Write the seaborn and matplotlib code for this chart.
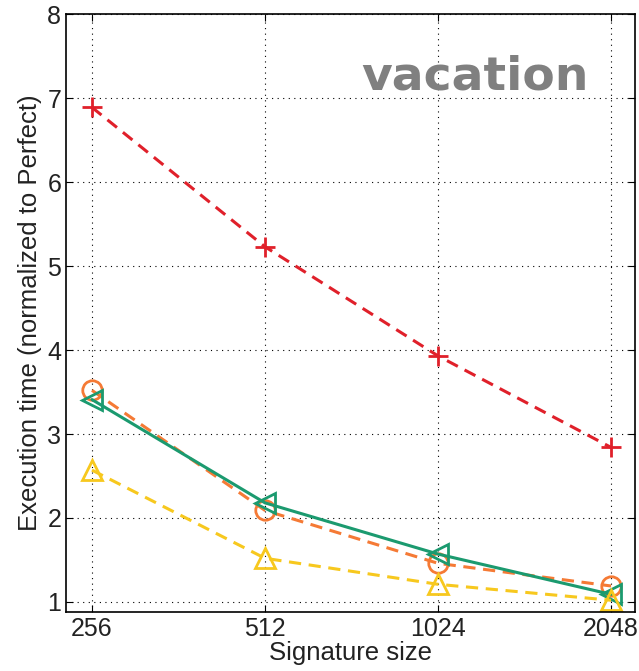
import numpy as np
import pandas as pd
import matplotlib
matplotlib.use("Agg")
import matplotlib.pyplot as plt
import seaborn as sns

sizes = [256, 512, 1024, 2048]
red_plus = [6.89, 5.23, 3.93, 2.84]
orange_circle = [3.52, 2.09, 1.46, 1.19]
green_tri = [3.41, 2.18, 1.57, 1.09]
yellow_tri = [2.57, 1.52, 1.21, 1.02]

sns.set_style("white")
plt.rcParams['font.family'] = ['Liberation Sans', 'DejaVu Sans']

fig = plt.figure(figsize=(6.39, 6.71), dpi=100)
ax = fig.add_axes([0.1033, 0.0879, 0.8904, 0.891])

series = [
    (red_plus, '#e0202a', '+', (4, 2.5)),
    (orange_circle, '#f57a35', 'o', (4, 2.5)),
    (green_tri, '#1b9a6f', '<', None),
    (yellow_tri, '#f7c81e', '^', (4, 2.5)),
]
for vals, col, mk, dash in series:
    df = pd.DataFrame({'size': sizes, 'val': vals})
    sns.lineplot(data=df, x='size', y='val', ax=ax, color=col, lw=2.2,
                 marker=mk, markersize=14 if mk != '+' else 15,
                 markerfacecolor='none', markeredgecolor=col, markeredgewidth=2)
    line = ax.lines[-1]
    if dash is not None:
        line.set_dashes(dash)

ax.set_xscale('log', base=2)
ax.set_xticks(sizes)
ax.set_xticklabels([str(s) for s in sizes])
ax.minorticks_off()
ax.set_xlim(256 / 2**0.15, 2048 * 2**0.138)
ax.set_ylim(0.88, 8)
ax.set_yticks(range(1, 9))
ax.grid(True, color='black', linestyle=(0, (1, 4)), linewidth=0.8)
for s in ax.spines.values():
    s.set_visible(True)
    s.set_color('black')
    s.set_linewidth(1.2)
ax.tick_params(direction='in', length=5, labelsize=18, colors='black',
               top=True, right=True, bottom=True, left=True)
for t in ax.get_xticklabels() + ax.get_yticklabels():
    t.set_color('#222222')
ax.set_xlabel('Signature size', fontsize=18.5, labelpad=0, color='#222222')
ax.set_ylabel('Execution time (normalized to Perfect)', fontsize=18.5, labelpad=4, color='#222222')
ax.text(0.719, 0.895, 'vacation', transform=ax.transAxes, ha='center', va='center',
        fontsize=34, fontweight='bold', color='#808080', family='DejaVu Sans')

fig.savefig('out.png', dpi=100)
